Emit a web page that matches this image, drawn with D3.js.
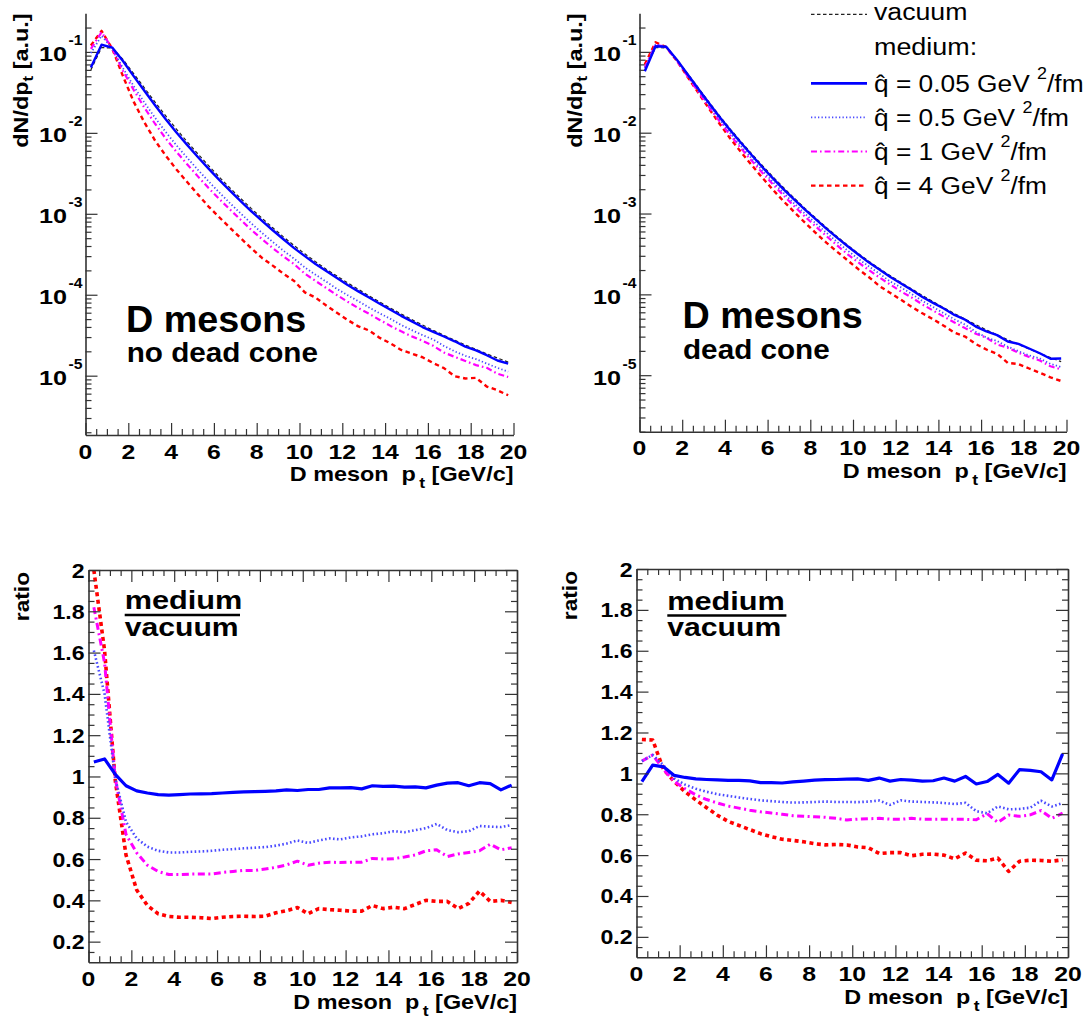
<!DOCTYPE html>
<html><head><meta charset="utf-8">
<script src="https://cdn.jsdelivr.net/npm/d3@7"></script>
<style>body{margin:0;background:#fff}svg{display:block}</style>
</head><body>
<svg id="c" width="1086" height="1020"></svg>
<script>
// ---------------- DATA ----------------
const pt = [0.25,0.75,1.25,1.75,2.25,2.75,3.25,3.75,4.25,4.75,5.25,5.75,6.25,6.75,7.25,7.75,8.25,8.75,9.25,9.75,
            10.25,10.75,11.25,11.75,12.25,12.75,13.25,13.75,14.25,14.75,15.25,15.75,16.25,16.75,17.25,17.75,18.25,18.75,19.25,19.75];

const vacuum = [0.0600,0.1130,0.112,0.0809,0.0540,0.0360,0.0240,0.0162,0.0111,0.00776,
  0.00550,0.00394,0.00285,0.00209,0.00155,0.00116,8.81e-4,6.73e-4,5.19e-4,4.05e-4,
  3.20e-4,2.56e-4,2.07e-4,1.70e-4,1.40e-4,1.17e-4,9.66e-5,8.13e-5,6.84e-5,5.79e-5,
  4.93e-5,4.22e-5,3.63e-5,3.15e-5,2.74e-5,2.40e-5,2.11e-5,1.86e-5,1.65e-5,1.47e-5];

// spectra, no dead cone
const specNoDC_q005 = [0.0642,0.1226,0.1131,0.0773,0.0502,0.0331,0.0219,0.01474,0.01012,0.00710,
  0.00504,0.00361,0.00262,0.00193,0.001434,0.001075,8.18e-4,6.26e-4,4.85e-4,3.77e-4,
  3.00e-4,2.40e-4,1.96e-4,1.61e-4,1.32e-4,1.10e-4,9.23e-5,7.74e-5,6.52e-5,5.49e-5,
  4.68e-5,3.99e-5,3.48e-5,3.05e-5,2.66e-5,2.29e-5,2.05e-5,1.79e-5,1.54e-5,1.41e-5];
const specNoDC_q05 = [0.0966,0.1582,0.1109,0.0631,0.0378,0.02376,0.01536,0.01024,0.00702,0.00493,
  0.00350,0.00252,0.001838,0.001354,0.001011,7.60e-4,5.80e-4,4.48e-4,3.50e-4,2.79e-4,
  2.17e-4,1.77e-4,1.45e-4,1.18e-4,9.87e-5,8.31e-5,6.96e-5,5.89e-5,5.03e-5,4.23e-5,
  3.65e-5,3.17e-5,2.80e-5,2.33e-5,2.00e-5,1.76e-5,1.60e-5,1.41e-5,1.25e-5,1.12e-5];
const specNoDC_q1 = [0.1092,0.1752,0.1109,0.0582,0.0340,0.0205,0.01296,0.00851,0.00583,0.00409,
  0.00290,0.00208,0.001525,0.001129,8.45e-4,6.32e-4,4.86e-4,3.77e-4,2.97e-4,2.39e-4,
  1.82e-4,1.48e-4,1.21e-4,9.91e-5,8.19e-5,6.84e-5,5.82e-5,4.88e-5,4.12e-5,3.53e-5,
  3.06e-5,2.70e-5,2.34e-5,1.93e-5,1.71e-5,1.52e-5,1.35e-5,1.25e-5,1.06e-5,9.63e-6];
const specNoDC_q4 = [0.120,0.1819,0.1098,0.0502,0.0243,0.0135,0.00804,0.00522,0.00353,0.00247,
  0.001738,0.001229,9.06e-4,6.73e-4,5.01e-4,3.74e-4,2.85e-4,2.29e-4,1.82e-4,1.48e-4,
  1.07e-4,9.22e-5,7.35e-5,5.98e-5,4.87e-5,4.07e-5,3.62e-5,2.93e-5,2.51e-5,2.08e-5,
  1.87e-5,1.69e-5,1.43e-5,1.24e-5,9.86e-6,9.24e-6,9.39e-6,7.35e-6,6.60e-6,5.73e-6];

// spectra, dead cone
const specDC_q005 = [0.0576,0.1175,0.1156,0.0801,0.0529,0.0350,0.02328,0.01568,0.01072,0.00750,
  0.00530,0.00376,0.00272,0.00199,0.001485,0.001116,8.52e-4,6.52e-4,5.03e-4,3.94e-4,
  3.11e-4,2.47e-4,2.02e-4,1.64e-4,1.36e-4,1.13e-4,9.29e-5,7.84e-5,6.68e-5,5.57e-5,
  4.86e-5,4.00e-5,3.48e-5,3.13e-5,2.61e-5,2.44e-5,2.14e-5,1.87e-5,1.60e-5,1.61e-5];
const specDC_q05 = [0.0636,0.1232,0.1165,0.0789,0.0510,0.0333,0.02184,0.01455,0.00988,0.00684,
  0.00481,0.00342,0.00246,0.001797,0.001328,9.95e-4,7.58e-4,5.80e-4,4.46e-4,3.48e-4,
  2.75e-4,2.21e-4,1.79e-4,1.44e-4,1.22e-4,1.01e-4,8.31e-5,6.98e-5,5.85e-5,4.92e-5,
  4.22e-5,3.44e-5,2.92e-5,2.64e-5,2.26e-5,1.98e-5,1.76e-5,1.61e-5,1.38e-5,1.26e-5];
const specDC_q1 = [0.0636,0.1232,0.1142,0.0777,0.0500,0.0322,0.02093,0.01385,0.00932,0.00644,
  0.00451,0.00320,0.002297,0.001672,0.001229,9.16e-4,6.94e-4,5.28e-4,4.05e-4,3.13e-4,
  2.48e-4,1.99e-4,1.61e-4,1.32e-4,1.085e-4,9.13e-5,7.50e-5,6.31e-5,5.31e-5,4.49e-5,
  3.82e-5,3.26e-5,2.91e-5,2.39e-5,2.18e-5,1.90e-5,1.68e-5,1.52e-5,1.29e-5,1.18e-5];
const specDC_q4 = [0.0700,0.1314,0.1142,0.0777,0.0491,0.0313,0.01997,0.01288,0.00849,0.00578,
  0.00399,0.00278,0.001967,0.001417,0.001042,7.71e-4,5.78e-4,4.37e-4,3.38e-4,2.63e-4,
  2.05e-4,1.63e-4,1.26e-4,1.04e-4,8.57e-5,6.98e-5,5.83e-5,4.92e-5,4.10e-5,3.37e-5,
  3.01e-5,2.43e-5,2.08e-5,1.84e-5,1.42e-5,1.37e-5,1.21e-5,1.07e-5,9.41e-6,8.48e-6];

// ratios medium / vacuum, no dead cone
const ratioNoDC_q005 = [1.07,1.085,1.01,0.955,0.93,0.92,0.912,0.91,0.912,0.915,
  0.916,0.917,0.92,0.923,0.925,0.927,0.928,0.93,0.935,0.932,
  0.937,0.937,0.945,0.945,0.946,0.94,0.955,0.952,0.953,0.948,
  0.95,0.945,0.958,0.968,0.97,0.955,0.97,0.965,0.935,0.958];
const ratioNoDC_q05 = [1.61,1.40,0.99,0.78,0.70,0.66,0.64,0.632,0.632,0.635,
  0.637,0.64,0.645,0.648,0.652,0.655,0.658,0.665,0.675,0.69,
  0.678,0.69,0.70,0.695,0.705,0.71,0.72,0.725,0.735,0.73,
  0.74,0.75,0.77,0.74,0.73,0.735,0.76,0.757,0.755,0.765];
const ratioNoDC_q1 = [1.82,1.55,0.99,0.72,0.63,0.57,0.54,0.525,0.525,0.527,
  0.528,0.528,0.535,0.54,0.545,0.545,0.552,0.56,0.572,0.59,
  0.57,0.58,0.585,0.583,0.585,0.585,0.603,0.6,0.602,0.61,
  0.62,0.64,0.645,0.612,0.625,0.632,0.64,0.672,0.645,0.655];
const ratioNoDC_q4 = [2.0,1.61,0.98,0.62,0.45,0.375,0.335,0.322,0.318,0.318,
  0.316,0.312,0.318,0.322,0.323,0.322,0.323,0.34,0.35,0.365,
  0.335,0.36,0.355,0.352,0.348,0.348,0.375,0.36,0.367,0.36,
  0.38,0.4,0.395,0.395,0.36,0.385,0.445,0.395,0.40,0.39];

// ratios medium / vacuum, dead cone
const ratioDC_q005 = [0.96,1.04,1.032,0.99,0.98,0.973,0.97,0.968,0.966,0.966,
  0.963,0.955,0.955,0.953,0.958,0.962,0.967,0.969,0.97,0.972,
  0.973,0.966,0.977,0.962,0.97,0.967,0.962,0.964,0.977,0.962,
  0.985,0.948,0.96,0.995,0.952,1.018,1.015,1.008,0.968,1.095];
const ratioDC_q05 = [1.06,1.09,1.04,0.975,0.945,0.925,0.91,0.898,0.89,0.882,
  0.875,0.868,0.864,0.86,0.857,0.858,0.86,0.862,0.86,0.86,
  0.859,0.862,0.867,0.846,0.868,0.862,0.86,0.858,0.855,0.85,
  0.856,0.815,0.805,0.838,0.824,0.826,0.832,0.866,0.838,0.855];
const ratioDC_q1 = [1.06,1.09,1.02,0.96,0.925,0.895,0.872,0.855,0.84,0.83,
  0.82,0.812,0.806,0.8,0.793,0.79,0.788,0.785,0.78,0.772,
  0.776,0.778,0.78,0.776,0.775,0.78,0.776,0.776,0.776,0.775,
  0.775,0.773,0.803,0.76,0.796,0.79,0.797,0.818,0.78,0.805];
const ratioDC_q4 = [1.166,1.163,1.02,0.96,0.91,0.87,0.832,0.795,0.765,0.745,
  0.725,0.705,0.69,0.678,0.672,0.665,0.656,0.65,0.652,0.65,
  0.64,0.636,0.608,0.612,0.612,0.597,0.604,0.605,0.6,0.582,
  0.61,0.575,0.572,0.585,0.52,0.57,0.575,0.574,0.57,0.577];

// tick labels
const xTickValues = [0,2,4,6,8,10,12,14,16,18,20];
const xTickLabels = ["0","2","4","6","8","10","12","14","16","18","20"];
const logDecades = [-1,-2,-3,-4,-5];
const logTickLabels = ["-1","-2","-3","-4","-5"];
const ratioTickValues = [0.2,0.4,0.6,0.8,1.0,1.2,1.4,1.6,1.8,2.0];
const ratioTickLabels = ["0.2","0.4","0.6","0.8","1","1.2","1.4","1.6","1.8","2"];
const legendLabels = ["0.05","0.5","1","4"];

// ---------------- DRAWING ----------------
const FONT = "'Liberation Sans', Arial, Helvetica, sans-serif";
const svg = d3.select('#c');
const AX = '#333';

const topStyle = {
  vac:  {c:'#222',    w:1.2, d:'3.5,2.5'},
  q005: {c:'#0000ff', w:2.4, d:null},
  q05:  {c:'#4a4aff', w:1.8, d:'1.3,2.2'},
  q1:   {c:'#ff00ff', w:2.2, d:'6,3,1.6,3'},
  q4:   {c:'#ff0000', w:2.4, d:'4.5,3.5'}
};
const botStyle = {
  q005: {c:'#0000ff', w:3.2, d:null},
  q05:  {c:'#4a4aff', w:2.6, d:'1.6,2.4'},
  q1:   {c:'#ff00ff', w:3.0, d:'7,3.5,2,3.5'},
  q4:   {c:'#ff0000', w:3.6, d:'4,3.5'}
};

function txt(parent, x, y, o, parts){
  const g = parent.append('g').attr('transform',`translate(${x},${y}) rotate(${o.rot||0}) scale(${o.sx||1},1)`);
  const t = g.append('text').attr('text-anchor', o.anchor||'start')
    .attr('font-family', FONT).attr('font-weight', o.weight||'bold')
    .attr('font-size', o.size).attr('fill','#000').style('white-space','pre');
  if (typeof parts === 'string') t.text(parts);
  else parts.forEach(p => {
    const s = t.append('tspan').attr('font-size', p.size||o.size).attr('dy', p.dy||0).text(p.t);
    if (p.dx) s.attr('dx', p.dx);
  });
  return t;
}

function styleAxis(g){
  g.selectAll('path.domain').attr('stroke', AX).attr('stroke-width', 1.6).attr('fill','none');
  g.selectAll('.tick line').attr('stroke', AX).attr('stroke-width', 1.2);
  g.selectAll('.tick text').remove();
}

const xMinor = d3.range(0, 20.001, 0.5).filter(v => Math.abs(v/2 - Math.round(v/2)) > 1e-6);

function xAxes(g, x, yPos, dir){
  const mk = dir === 'bottom' ? d3.axisBottom : d3.axisTop;
  const g1 = g.append('g').attr('transform',`translate(0,${yPos})`)
    .call(mk(x).tickValues(xTickValues).tickSize(-12).tickSizeOuter(0).tickFormat(''));
  const g2 = g.append('g').attr('transform',`translate(0,${yPos})`)
    .call(mk(x).tickValues(xMinor).tickSize(-6).tickSizeOuter(0).tickFormat(''));
  g2.select('path.domain').remove();
  styleAxis(g1); styleAxis(g2);
}

function line(g, x, y, xs, ys, st){
  const gen = d3.line().x((d,i)=>x(xs[i])).y(d=>y(d));
  g.append('path').datum(ys).attr('d', gen).attr('fill','none')
    .attr('stroke', st.c).attr('stroke-width', st.w)
    .attr('stroke-dasharray', st.d).attr('stroke-linejoin','round');
}

const xTitle = [{t:'D meson  p'},{t:'t', size:15, dy:7, dx:3},{t:' [GeV/c]', dy:-7}];

// ---------- top panels ----------
function topPanel(p){
  const g = svg.append('g');
  const x = d3.scaleLinear().domain([0,20]).range([p.x0, p.x1]);
  const y = d3.scaleLog().domain(p.ydom).range([p.y0, p.y1]);
  const major = logDecades.map(d => Math.pow(10, d));
  const minor = [];
  for (let d = -6; d <= 0; d++) for (let m = 2; m <= 9; m++) {
    const v = m * Math.pow(10, d);
    if (v >= p.ydom[0] && v <= p.ydom[1]) minor.push(v);
  }
  const ya = g.append('g').attr('transform',`translate(${p.x0},0)`)
    .call(d3.axisLeft(y).tickValues(major).tickSize(-12).tickSizeOuter(0).tickFormat(''));
  const yb = g.append('g').attr('transform',`translate(${p.x0},0)`)
    .call(d3.axisLeft(y).tickValues(minor).tickSize(-6).tickSizeOuter(0).tickFormat(''));
  yb.select('path.domain').remove();
  styleAxis(ya); styleAxis(yb);
  xAxes(g, x, p.y0, 'bottom');

  line(g, x, y, pt, vacuum, topStyle.vac);
  line(g, x, y, pt, p.s[3], topStyle.q4);
  line(g, x, y, pt, p.s[2], topStyle.q1);
  line(g, x, y, pt, p.s[1], topStyle.q05);
  line(g, x, y, pt, p.s[0], topStyle.q005);

  xTickValues.forEach((v,i) => txt(g, x(v), p.y0 + 23.5, {size:21, sx:1.18, anchor:'middle'}, xTickLabels[i]));
  logDecades.forEach((d,i) => {
    const yy = y(Math.pow(10,d));
    txt(g, p.x0 - 18.5, yy + 9.5, {size:21, sx:1.2, anchor:'end'}, '10');
    txt(g, p.x0 - 17, yy - 6.5, {size:15, sx:1.05, anchor:'start'}, logTickLabels[i]);
  });
  txt(g, p.x1, p.y0 + 46, {size:20, sx:1.17, anchor:'end'}, xTitle);
  txt(g, p.x0 - 57.5, 13.5, {size:19.5, sx:1.2, anchor:'end', rot:-90},
      [{t:'dN/dp'},{t:'t', size:14, dy:5},{t:' [a.u.]', dy:-5}]);
  txt(g, p.t1[0], p.t1[1], {size:37, sx:1.02}, 'D mesons');
  txt(g, p.t2[0], p.t2[1], {size:28, sx:1.06}, p.sub);
}

topPanel({x0:85.5, x1:513.5, y0:435, y1:13.3, ydom:[1.85e-6, 0.3],
  s:[specNoDC_q005, specNoDC_q05, specNoDC_q1, specNoDC_q4],
  t1:[126,331.7], t2:[126.7,361.7], sub:'no dead cone'});
topPanel({x0:639.5, x1:1066.5, y0:431.7, y1:13.3, ydom:[2e-6, 0.3],
  s:[specDC_q005, specDC_q05, specDC_q1, specDC_q4],
  t1:[682.4,328.3], t2:[683,359.3], sub:'dead cone'});

// legend (top right)
(function(){
  const g = svg.append('g');
  const lx = d3.scaleLinear().domain([0,1]).range([811, 867]);
  const tx = 874;
  const rows = [83.3, 117.4, 151.5, 185.6];
  line(g, lx, v=>v, [0,1], [14.3,14.3], topStyle.vac);
  txt(g, tx, 20, {size:23, sx:1.16, weight:'normal'}, 'vacuum');
  txt(g, tx, 55.3, {size:23, sx:1.17, weight:'normal'}, 'medium:');
  const st = [topStyle.q005, topStyle.q05, topStyle.q1, topStyle.q4];
  rows.forEach((r,i) => {
    const s = Object.assign({}, st[i]);
    if (i===0) s.w = 2.8;
    line(g, lx, v=>v, [0,1], [r,r], s);
    txt(g, tx, r + 8.3, {size:23.5, sx:1.12, weight:'normal'},
      [{t:'q\u0302 = ' + legendLabels[i] + ' GeV '},{t:'2', size:16, dy:-13},{t:'/fm', dy:13}]);
  });
})();

// ---------- bottom panels ----------
function botPanel(p){
  const g = svg.append('g');
  const x = d3.scaleLinear().domain([0,20]).range([p.x0, p.x1]);
  const y = d3.scaleLinear().domain([0.1,2]).range([p.y0, p.y1]);
  const clipId = 'clip' + Math.round(p.x0);
  svg.append('clipPath').attr('id', clipId).append('rect')
    .attr('x', p.x0).attr('y', p.y1).attr('width', p.x1-p.x0).attr('height', p.y0-p.y1);
  const cg = g.append('g').attr('clip-path', `url(#${clipId})`);
  line(cg, x, y, pt, p.r[3], botStyle.q4);
  line(cg, x, y, pt, p.r[2], botStyle.q1);
  line(cg, x, y, pt, p.r[1], botStyle.q05);
  line(cg, x, y, pt, p.r[0], botStyle.q005);

  const yMinor = d3.range(0.15, 2.0, 0.05).map(v => +v.toFixed(2))
      .filter(v => Math.abs(v*5 - Math.round(v*5)) > 1e-6);
  [['left', p.x0], ['right', p.x1]].forEach(([side, xp]) => {
    const mk = side === 'left' ? d3.axisLeft : d3.axisRight;
    const a = g.append('g').attr('transform',`translate(${xp},0)`)
      .call(mk(y).tickValues(ratioTickValues).tickSize(-12).tickSizeOuter(0).tickFormat(''));
    const b = g.append('g').attr('transform',`translate(${xp},0)`)
      .call(mk(y).tickValues(yMinor).tickSize(-6).tickSizeOuter(0).tickFormat(''));
    b.select('path.domain').remove();
    styleAxis(a); styleAxis(b);
  });
  xAxes(g, x, p.y0, 'bottom');
  xAxes(g, x, p.y1, 'top');

  xTickValues.forEach((v,i) => txt(g, x(v), p.y0 + 23.7, {size:21, sx:1.18, anchor:'middle'}, xTickLabels[i]));
  ratioTickValues.forEach((v,i) => txt(g, p.x0 - 4, y(v) + 7.5, {size:21, sx:1.1, anchor:'end'}, ratioTickLabels[i]));
  txt(g, p.x1, p.y0 + 47, {size:20, sx:1.17, anchor:'end'}, xTitle);
  txt(g, p.x0 - 59.5, p.y1 + 2, {size:21, sx:1.08, anchor:'end', rot:-90}, 'ratio');
  txt(g, p.fx, p.fy - 5.7, {size:26, sx:1.18}, 'medium');
  g.append('line').attr('x1', p.fx).attr('x2', p.fx2).attr('y1', p.fy).attr('y2', p.fy)
    .attr('stroke','#000').attr('stroke-width', 2.6);
  txt(g, p.fx, p.fy + 20.5, {size:26, sx:1.16}, 'vacuum');
}

botPanel({x0:88.5, x1:517, y0:962.3, y1:570,
  r:[ratioNoDC_q005, ratioNoDC_q05, ratioNoDC_q1, ratioNoDC_q4], fx:124.7, fx2:240, fy:615});
botPanel({x0:636.5, x1:1068, y0:957.3, y1:569,
  r:[ratioDC_q005, ratioDC_q05, ratioDC_q1, ratioDC_q4], fx:667.3, fx2:786.4, fy:615.5});
</script>
</body></html>
